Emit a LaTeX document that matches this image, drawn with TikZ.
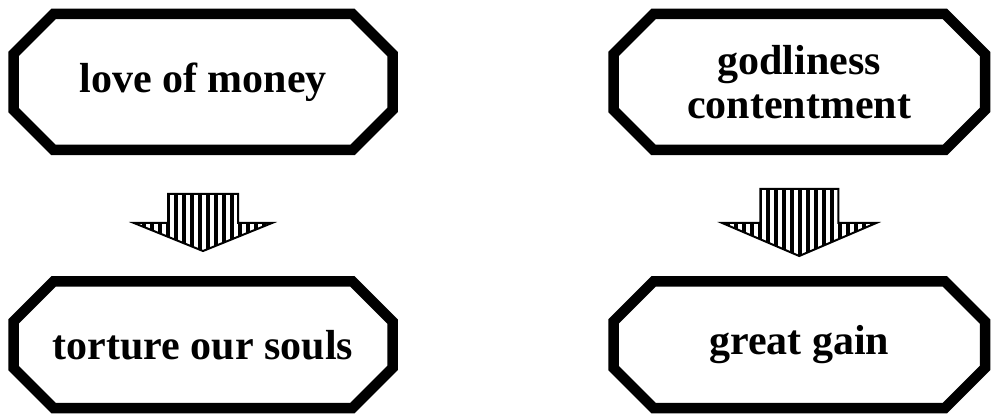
\documentclass[tikz,border=0pt]{standalone}
\usepackage{fontspec}
\setmainfont{Liberation Serif}
\usetikzlibrary{patterns.meta}
\tikzset{
  box/.style={rectangle, draw=none,
    font=\fontsize{42}{44}\selectfont\bfseries, align=center,
    inner sep=0pt, outer sep=0pt},
  boxline/.style={draw=black, line width=10.5pt, line join=miter},
  stripes/.style={pattern={Lines[angle=90,distance=8pt,line width=4pt]}},
  blockarrow/.style={draw=black, line width=2pt, line join=miter, stripes}
}
\newcommand\octframe[2]{%
  \draw[boxline] ([xshift=#2]#1.north west) -- ([xshift=-#2]#1.north east)
    -- ([yshift=-#2]#1.north east) -- ([yshift=#2]#1.south east)
    -- ([xshift=-#2]#1.south east) -- ([xshift=#2]#1.south west)
    -- ([yshift=#2]#1.south west) -- ([yshift=-#2]#1.north west) -- cycle;}
\begin{document}
\begin{tikzpicture}[x=1pt,y=-1pt]
\useasboundingbox (0,0) rectangle (991,414);
\node[box, minimum width=379pt, minimum height=136pt] (love) at (203,82) {love of money};
\node[box, minimum width=371.5pt, minimum height=136pt] (godly) at (799.25,82) {godliness\\contentment};
\node[box, minimum width=379pt, minimum height=126.5pt] (torture) at (203,344.75) {torture our souls};
\node[box, minimum width=371.5pt, minimum height=126.5pt] (gain) at (799.25,344.75) {great gain};
\octframe{love}{40pt}
\octframe{godly}{40pt}
\octframe{torture}{40pt}
\octframe{gain}{40pt}
% block arrows
\coordinate (a1) at (love.south |- 0,194);
\coordinate (a2) at (godly.south |- 0,189);
\draw[blockarrow] (a1) ++(-35,0) -- ++(70,0) -- ++(0,29) -- ++(34,0) -- (a1 |- 0,251) -- ++(-69,-28) -- ++(34,0) -- cycle;
\draw[blockarrow] (a2) ++(-39,0) -- ++(78,0) -- ++(0,34) -- ++(38,0) -- (a2 |- 0,256) -- ++(-77,-33) -- ++(38,0) -- cycle;
\end{tikzpicture}
\end{document}
